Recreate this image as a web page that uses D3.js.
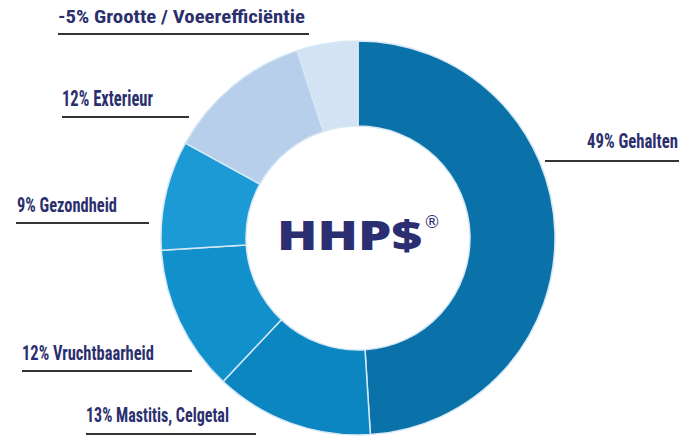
<!DOCTYPE html>
<html><head><meta charset="utf-8">
<script src="https://cdn.jsdelivr.net/npm/d3@7"></script>
<style>body{margin:0;background:#fff}svg{display:block}</style>
</head><body>
<svg id="c" width="693" height="439"></svg>
<script>
const categories = ["Gehalten","Mastitis, Celgetal","Vruchtbaarheid","Gezondheid","Exterieur","Grootte / Voeerefficiëntie"];
const values = [49,13,12,9,12,5];
const labelTexts = ["49% Gehalten","13% Mastitis, Celgetal","12% Vruchtbaarheid","9% Gezondheid","12% Exterieur","-5% Grootte / Voeerefficiëntie"];
const colors = ["#0a72a9","#0b86c0","#1190cb","#1c9ad5","#b7cfeb","#d4e3f3"];
const centerTitle = "HHP$";

// label layout: [text left x, baseline y, text width, line x1, line x2, line y, font size]
const labelLayout = [
  [587,148,91,545,679,161,21],
  [86,422,143,86,256,434,21],
  [22,360,132,22,192,371,21],
  [17,212,100,16,149,223,21],
  [62,106,91,62,189,117,22],
  [58,23,247,58,309,34,19]
];

const svg = d3.select("#c");
const cx = 358, cy = 238, rOuter = 197, rInner = 112;
const pie = d3.pie().sort(null).value(d=>d)(values);
const arc = d3.arc().innerRadius(rInner).outerRadius(rOuter);
const g = svg.append("g").attr("transform",`translate(${cx},${cy})`);
g.selectAll("path").data(pie).join("path")
  .attr("d",arc).attr("fill",(d,i)=>colors[i])
  .attr("stroke","#d6e8f5").attr("stroke-width",1.5).attr("stroke-linejoin","round");

const font = "'Liberation Sans Narrow','Arial Narrow','Roboto Condensed',sans-serif";
labelTexts.forEach((t,i)=>{
  const L = labelLayout[i];
  const tg = svg.append("g");
  const txt = tg.append("text").attr("x",0).attr("y",0).text(t)
    .attr("font-family",font).attr("font-size",L[6]).attr("font-weight",700)
    .attr("fill","#2b2f6e");
  const nat = txt.node().getComputedTextLength() || L[2];
  tg.attr("transform",`translate(${L[0]},${L[1]}) scale(${L[2]/nat},1)`);
  svg.append("line").attr("x1",L[3]).attr("x2",L[4]).attr("y1",L[5]).attr("y2",L[5])
    .attr("stroke","#333").attr("stroke-width",2);
});

const hg = svg.append("g");
const ht = hg.append("text").attr("x",0).attr("y",0).text(centerTitle)
  .attr("font-family","'Open Sans','DejaVu Sans',sans-serif").attr("font-weight",800)
  .attr("font-size",41).attr("fill","#2b2f72");
const hn = ht.node().getComputedTextLength() || 145;
hg.attr("transform",`translate(277,250) scale(${145/hn},1)`);
svg.append("text").attr("x",432).attr("y",228).text("®")
  .attr("text-anchor","middle")
  .attr("font-family","'DejaVu Sans',sans-serif").attr("font-size",17).attr("fill","#2b2f72");
</script>
</body></html>
